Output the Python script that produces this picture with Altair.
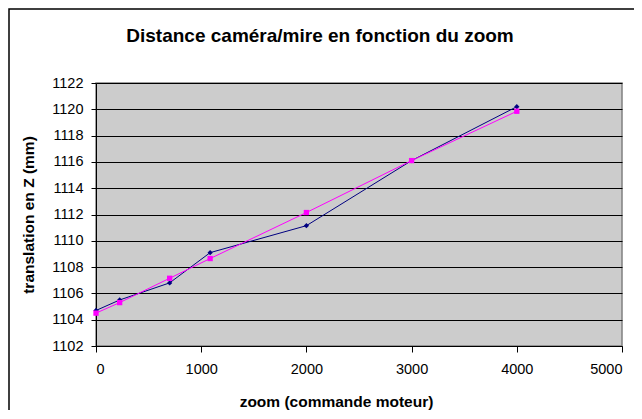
import altair as alt
import pandas as pd

# Data
zoom_cmd = [0, 225, 700, 1085, 2000, 3000, 4000]
serie_mesure = [1104.7, 1105.5, 1106.8, 1109.1, 1111.15, 1116.1, 1120.2]
serie_modele = [1104.5, 1105.3, 1107.15, 1108.65, 1112.15, 1116.1, 1119.85]
x_ticks = [0, 1000, 2000, 3000, 4000, 5000]
y_ticks = [1102, 1104, 1106, 1108, 1110, 1112, 1114, 1116, 1118, 1120, 1122]
series_names = ["mesure", "modele"]
series_colors = ["#000080", "#FF00FF"]
series_shapes = ["diamond", "square"]
chart_title = "Distance caméra/mire en fonction du zoom"

df = pd.DataFrame({
    "zoom": zoom_cmd + zoom_cmd,
    "z": serie_mesure + serie_modele,
    "serie": [series_names[0]] * len(zoom_cmd) + [series_names[1]] * len(zoom_cmd),
})

FONT = "Liberation Sans"
W, H = 526, 263
PAD_L, PAD_T = 88, 75

x_enc = alt.X(
    "zoom:Q",
    scale=alt.Scale(domain=[0, 5000], nice=False),
    axis=alt.Axis(
        values=x_ticks, format="d", title="zoom (commande moteur)", grid=False,
        domainColor="black", tickColor="black", tickSize=6,
        labelFont=FONT, labelFontSize=14.5, labelColor="black", labelPadding=10,
        titleFont=FONT, titleFontSize=15.5, titleFontWeight="bold", titleColor="black",
        titleX=240, titleY=55, titleBaseline="middle", titleAnchor="start", titleAlign="center",
    ),
)
y_enc = alt.Y(
    "z:Q",
    scale=alt.Scale(domain=[1102, 1122], nice=False, zero=False),
    axis=alt.Axis(
        values=y_ticks, format="d", title="translation en Z (mm)", grid=True,
        gridColor="black", gridWidth=1, gridOpacity=1, labelOverlap=False,
        domainColor="black", tickColor="black", tickSize=5,
        labelFont=FONT, labelFontSize=14.5, labelColor="black", labelPadding=8,
        titleFont=FONT, titleFontSize=15.5, titleFontWeight="bold", titleColor="black",
        titleX=-68, titleY=H / 2, titleAngle=-90, titleBaseline="middle",
        titleAlign="center", titleAnchor="start",
    ),
)
color_enc = alt.Color("serie:N", scale=alt.Scale(domain=series_names, range=series_colors), legend=None)
shape_enc = alt.Shape("serie:N", scale=alt.Scale(domain=series_names, range=series_shapes), legend=None)

border = alt.Chart(pd.DataFrame({"a": [0]})).mark_rect(
    fill=None, stroke="black", strokeWidth=1.5
).encode(
    x=alt.value(-87), y=alt.value(-74), x2=alt.value(600), y2=alt.value(400)
)

title = alt.Chart(pd.DataFrame({"t": [chart_title]})).mark_text(
    font=FONT, fontSize=19, fontWeight="bold", color="black",
    align="center", baseline="alphabetic",
).encode(
    text="t:N", x=alt.value(224), y=alt.value(-41)
)

lines = alt.Chart(df).mark_line(strokeWidth=1).encode(
    x=x_enc, y=y_enc, color=color_enc, detail="serie:N"
)
points = alt.Chart(df).mark_point(filled=True, size=28, opacity=1).encode(
    x=x_enc, y=y_enc, color=color_enc, shape=shape_enc
)

chart = alt.layer(border, lines, points, title).properties(
    width=W, height=H,
    background="white",
    autosize=alt.AutoSizeParams(type="none"),
    padding={"left": PAD_L, "top": PAD_T, "right": 12, "bottom": 64},
).configure_view(
    fill="#CCCCCC", stroke="#808080", strokeWidth=1.5
)

chart.save("out.html", embed_options={"renderer": "svg", "actions": False})
